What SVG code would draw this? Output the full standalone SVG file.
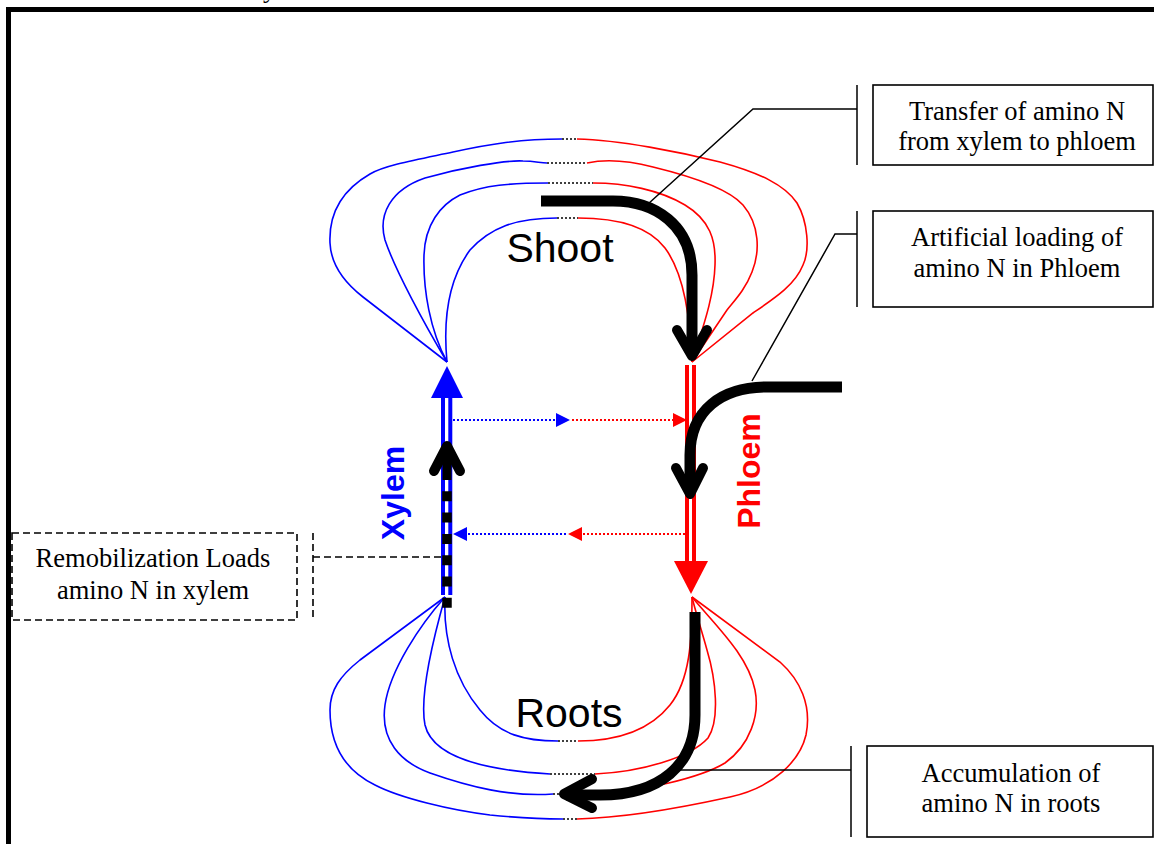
<svg xmlns="http://www.w3.org/2000/svg" width="1154" height="844" viewBox="0 0 1154 844">
  <style>
    .bl { fill: none; stroke: #0000ff; stroke-width: 1.6; }
    .rd { fill: none; stroke: #ff0000; stroke-width: 1.6; }
    .jn { fill: none; stroke: #000; stroke-width: 1.5; stroke-dasharray: 2 2; }
    .pipeB { fill: none; stroke: #0000ff; stroke-width: 4; }
    .pipeR { fill: none; stroke: #ff0000; stroke-width: 4; }
    .flow { fill: none; stroke: #000; stroke-width: 11; }
    .chev { fill: none; stroke: #000; stroke-width: 10; stroke-linecap: round; stroke-linejoin: round; }
    .dotB { fill: none; stroke: #0000ff; stroke-width: 2; stroke-dasharray: 2 2; }
    .dotR { fill: none; stroke: #ff0000; stroke-width: 2; stroke-dasharray: 2 2; }
    .lead { fill: none; stroke: #000; stroke-width: 1.5; }
    .box { fill: #fff; stroke: #000; stroke-width: 1.6; }
    .dash { fill: none; stroke: #000; stroke-width: 1.6; stroke-dasharray: 7 4; }
    .note { font-family: "Liberation Serif", "Times New Roman", serif; font-size: 26.5px; fill: #000; text-anchor: middle; }
    .big { font-family: "Liberation Sans", Arial, sans-serif; font-size: 41px; fill: #000; text-anchor: middle; }
    .side { font-family: "Liberation Sans", Arial, sans-serif; font-size: 32px; font-weight: bold; text-anchor: middle; }
  </style>
  <defs>
    <marker id="triB" markerUnits="userSpaceOnUse" markerWidth="14" markerHeight="14" refX="0" refY="7" orient="auto">
      <path d="M0,0 L14,7 L0,14 z" fill="#0000ff"/>
    </marker>
    <marker id="triR" markerUnits="userSpaceOnUse" markerWidth="14" markerHeight="14" refX="0" refY="7" orient="auto">
      <path d="M0,0 L14,7 L0,14 z" fill="#ff0000"/>
    </marker>
  </defs>

  <rect width="1154" height="844" fill="#fff"/>

  <!-- page frame and clipped heading letter -->
  <g id="frame">
    <text x="263" y="-2" font-family="Liberation Serif, serif" font-size="26">y</text>
    <path d="M8.5,1000 V9.5 H1200" fill="none" stroke="#000" stroke-width="5"/>
  </g>

  <!-- shoot vascular loops -->
  <g id="shoot">
    <path class="bl" d="M447,362 L363,297 C345,283 331,265 330,243 C329,220 337,193 370,174 C385,165 420,159 453,152 C490,144 520,139 562,139"/>
    <path class="rd" d="M577,139 C620,140 680,152 720,162 C760,173 785,185 797,203 C808,222 810,250 803,265 C795,285 775,298 753,313 L692,362"/>
    <path class="bl" d="M447,362 C425,325 395,270 385,240 C378,215 390,190 425,178 C460,168 505,160 523,161 C535,161 540,163 547,163"/>
    <path class="rd" d="M587,163 C605,159 630,161 653,167 C690,176 728,188 743,205 C760,225 760,252 752,272 C745,290 735,300 727,310 L692,362"/>
    <path class="bl" d="M447,362 C430,330 423,290 424,255 C425,225 440,205 460,195 C485,185 510,183 548,183"/>
    <path class="rd" d="M593,183 C625,183 660,190 685,205 C710,220 716,240 715,265 C714,300 700,335 692,362"/>
    <path class="bl" d="M447,362 C443,320 448,280 470,250 C490,228 515,218 557,218"/>
    <path class="rd" d="M578,218 C620,218 650,228 665,248 C685,275 690,320 692,362"/>
    <path class="jn" d="M562,139 H577 M547,163 H587 M548,183 H593 M557,218 H578"/>
    <text class="big" x="560" y="262">Shoot</text>
  </g>

  <!-- root vascular loops -->
  <g id="roots">
    <path class="bl" d="M445,597 C443,640 455,680 480,710 C500,735 525,741 558,741"/>
    <path class="rd" d="M578,741 C620,741 650,730 670,705 C690,680 692,640 692,597"/>
    <path class="bl" d="M445,597 C430,650 420,700 425,725 C432,755 480,770 550,774"/>
    <path class="rd" d="M595,774 C640,772 690,758 708,738 C720,720 716,680 707,650 C700,625 695,610 692,597"/>
    <path class="bl" d="M445,597 C420,625 390,670 385,705 C380,740 400,762 430,773 C470,787 510,797 553,794"/>
    <path class="rd" d="M597,793 C640,792 700,778 725,763 C750,745 760,715 755,690 C748,655 715,625 692,597"/>
    <path class="bl" d="M445,597 L360,660 C340,676 330,690 330,710 C330,740 340,768 375,785 C400,798 450,810 490,815 C520,818 540,819 563,819"/>
    <path class="rd" d="M577,819 C620,818 680,808 730,797 C775,787 800,760 806,735 C812,705 800,680 780,662 L692,597"/>
    <path class="jn" d="M558,741 H578 M550,774 H595 M553,794 H560 M563,819 H577"/>
    <text class="big" x="569" y="727">Roots</text>
  </g>

  <!-- xylem channel -->
  <g id="xylem">
    <path class="pipeB" d="M443,398 V595 M450.3,398 V595"/>
    <polygon points="431,398 463,398 447,366" fill="#0000ff"/>
    <text class="side" fill="#0000ff" transform="translate(404,493) rotate(-90)">Xylem</text>
  </g>

  <!-- phloem channel -->
  <g id="phloem">
    <path class="pipeR" d="M687,365 V562 M694,365 V562"/>
    <polygon points="674,561 708,561 691,594" fill="#ff0000"/>
    <text class="side" fill="#ff0000" transform="translate(760,471) rotate(-90)">Phloem</text>
  </g>

  <!-- callout notes -->
  <g id="note-transfer">
    <rect class="box" x="873" y="85" width="280" height="80"/>
    <text class="note" x="1017" y="120">Transfer of amino N</text>
    <text class="note" x="1017" y="150">from xylem to phloem</text>
  </g>
  <g id="note-loading">
    <rect class="box" x="873" y="211" width="280" height="96"/>
    <text class="note" x="1017" y="246">Artificial loading of</text>
    <text class="note" x="1017" y="277">amino N in Phloem</text>
  </g>
  <g id="note-accumulation">
    <rect class="box" x="867" y="746" width="286" height="91"/>
    <text class="note" x="1011" y="782">Accumulation of</text>
    <text class="note" x="1011" y="812">amino N in roots</text>
  </g>
  <g id="note-remobilization">
    <rect class="dash" x="12" y="533" width="285" height="87" fill="#fff"/>
    <text class="note" x="153" y="567">Remobilization Loads</text>
    <text class="note" x="153" y="599">amino N in xylem</text>
  </g>

  <g id="connectors">
    <!-- exchange between the two channels -->
    <path class="dotB" d="M453,420 H556" marker-end="url(#triB)"/>
    <path class="dotR" d="M572,420 H673" marker-end="url(#triR)"/>
    <path class="dotR" d="M685,534 H582" marker-end="url(#triR)"/>
    <path class="dotB" d="M566,534 H467" marker-end="url(#triB)"/>

    <!-- nitrogen flows -->
    <path class="flow" d="M541,201 H613 C655,201 692,225 692,275 V352"/>
    <path class="chev" d="M677,330 L692,356 L707,330"/>
    <path class="flow" d="M842,387 H767 C722,387 690,410 690,455 V490"/>
    <path class="chev" d="M676,468 L690,494 L703,468"/>
    <path class="flow" d="M695,612 V715 C695,765 660,795 600,795 H566" stroke-width="11.5"/>
    <path class="chev" d="M592,779 L564,794 L592,808"/>
    <path d="M447,450 V480" stroke="#000" stroke-width="9" fill="none"/>
    <path d="M447,491.3 V608" stroke="#000" stroke-width="9.5" stroke-dasharray="10 11.3" fill="none"/>
    <path class="chev" d="M434,471 L447,446 L460,471" stroke-width="9"/>

    <!-- note leaders -->
    <path class="lead" d="M857,85 V165 M857,109 H753 L648,204"/>
    <path class="lead" d="M857,211 V307 M857,234 H835 L752,381"/>
    <path class="lead" d="M851,746 V837 M851,770 H675"/>
    <path class="dash" d="M313,533 V620 M313,557 H443"/>
  </g>
</svg>
